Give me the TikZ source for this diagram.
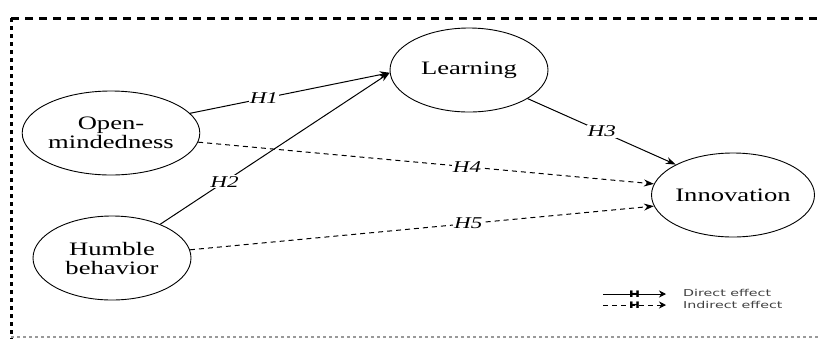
\documentclass[tikz,border=0pt]{standalone}
\usepackage{fontspec}
\newfontfamily\figserif[FakeStretch=1.4]{Liberation Serif}
\newfontfamily\figsans[FakeStretch=1.5]{DejaVu Sans}
\usetikzlibrary{shapes.geometric,arrows.meta}
\tikzset{
  construct/.style={draw, ellipse, line width=0.9pt, minimum width=158pt, minimum height=84pt,
    inner sep=0pt, align=center, font=\figserif\fontsize{19}{19}\selectfont},
  hyplabel/.style={fill=white, inner sep=1pt, font=\figserif\itshape\fontsize{16.5}{16.5}\selectfont},
  direct/.style={draw, line width=1pt, -{Stealth[length=10pt,width=7pt]}},
  indirect/.style={direct, dash pattern=on 5pt off 4pt},
  legmark/.style={inner sep=0pt, font=\figsans\bfseries\fontsize{9}{9}\selectfont},
  legtext/.style={anchor=west, inner sep=0pt, text=black!75, font=\figsans\fontsize{9.5}{9.5}\selectfont},
}

\begin{document}
\begin{tikzpicture}[x=1pt, y=-1pt]
    \useasboundingbox (0,0) rectangle (819,338);
    % frame
    \draw[line width=3pt, dash pattern=on 8pt off 6pt] (11,18) -- (830,18);
    \draw[line width=3pt, dash pattern=on 4pt off 4pt] (11,18) -- (11,340);
    \draw[black!40, line width=1.5pt, dash pattern=on 3pt off 3pt] (11,337) -- (819,337);

    % constructs
    \node[construct] (open)   at (111,133) {Open-\\mindedness};
    \node[construct] (humble) at (112,258) {Humble\\behavior};
    \node[construct] (learn)  at (469,70)  {Learning};
    \node[construct] (innov)  at (733,195) {Innovation};

    % hypotheses
    \draw[direct]   (open.14)   -- node[hyplabel, pos=0.37] (h1) {H1} (learn.182);
    \draw[direct]   (humble.35) -- node[hyplabel, pos=0.28] (h2) {H2} (learn.182);
    \draw[direct]   (learn.-26) -- node[hyplabel, pos=0.5]  (h3) {H3} (innov.152);
    \draw[indirect] (open.-6)   -- node[hyplabel, pos=0.59] (h4) {H4} (innov.172);
    \draw[indirect] (humble.6)  -- node[hyplabel, pos=0.6]  (h5) {H5} (innov.188);

    % legend
    \coordinate (ds) at (603,294); \coordinate (de) at (666,294);
    \coordinate (is) at (603,305); \coordinate (ie) at (666,305);
    \draw[direct, line width=0.9pt, -{Stealth[length=7pt,width=7pt]}] (ds) -- node[legmark] (dm) {H} (de);
    \draw[indirect, line width=0.9pt, -{Stealth[length=7pt,width=7pt]}] (is) -- node[legmark] (im) {H} (ie);
    \node[legtext] (dtext) at (683,293) {Direct effect};
    \node[legtext] (itext) at (683,305) {Indirect effect};
\end{tikzpicture}
\end{document}
